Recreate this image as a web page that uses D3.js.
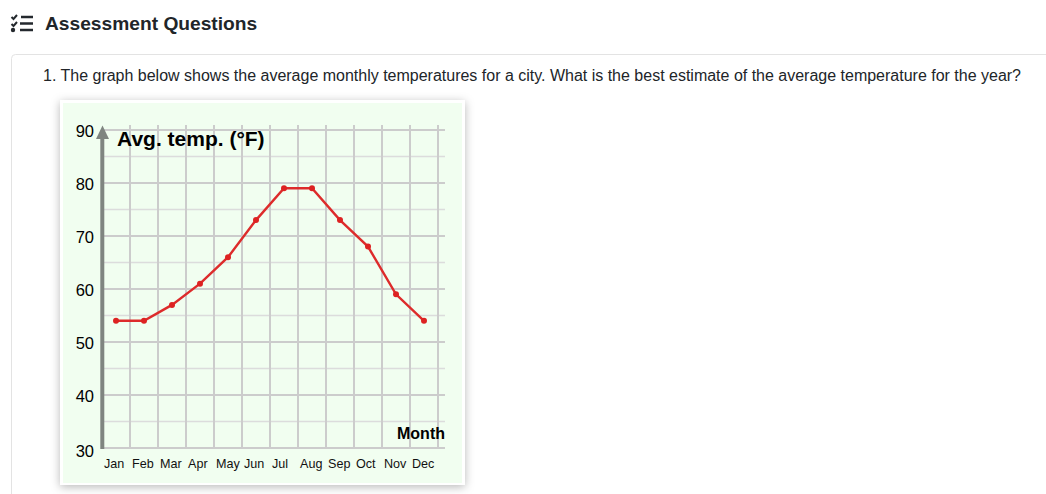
<!DOCTYPE html>
<html><head><meta charset="utf-8">
<script src="https://cdn.jsdelivr.net/npm/d3@7"></script>
<style>
html,body{margin:0;padding:0;background:#fff;overflow:hidden}
svg{display:block;font-family:"Liberation Sans",Arial,sans-serif}
</style></head><body>
<svg id="c" width="1046" height="494"></svg>
<script>
const months=["Jan","Feb","Mar","Apr","May","Jun","Jul","Aug","Sep","Oct","Nov","Dec"];
const temps=[54,54,57,61,66,73,79,79,73,68,59,54];
const majorTicks=[30,40,50,60,70,80,90];
const minorTicks=[35,45,55,65,75,85];
const heading="Assessment Questions";
const question="1. The graph below shows the average monthly temperatures for a city. What is the best estimate of the average temperature for the year?";

const svg=d3.select("#c");
const defs=svg.append("defs");
const f=defs.append("filter").attr("id","sh").attr("x","-10%").attr("y","-10%").attr("width","120%").attr("height","120%");
f.append("feDropShadow").attr("dx",0).attr("dy",2).attr("stdDeviation",5).attr("flood-color","#000").attr("flood-opacity",.28);

// heading icon
const ic=svg.append("g").attr("fill","none").attr("stroke","#24292e");
ic.append("path").attr("stroke-width",2).attr("d","M11.5 17l2 2 3.5-4M11.5 24l2 2 3.5-4");
ic.append("circle").attr("cx",13).attr("cy",30).attr("r",2.2).attr("fill","#24292e").attr("stroke","none");
ic.append("path").attr("stroke-width",2.6).attr("d","M21 17h12M20 23.5h13M20 30h13");
svg.append("text").attr("x",45).attr("y",30).attr("font-size",19.2).attr("font-weight",700).attr("fill","#212529").text(heading);

// outer panel
svg.append("rect").attr("x",11.5).attr("y",54.5).attr("width",1100).attr("height",600).attr("rx",4).attr("fill","#fff").attr("stroke","#e3e3e3");
svg.append("text").attr("x",43).attr("y",81).attr("font-size",16).attr("fill","#212529").attr("textLength",978).text(question);

// card
svg.append("rect").attr("x",60).attr("y",100).attr("width",405).attr("height",385).attr("fill","#fff").attr("filter","url(#sh)");
svg.append("rect").attr("x",63).attr("y",103).attr("width",399).attr("height",380).attr("fill","#f1fef0");

const x=d3.scaleBand().domain(months).range([102,438]);
const y=d3.scaleLinear().domain([30,90]).range([448,130]);
const grid=svg.append("g");
grid.selectAll(".minor").data(minorTicks).join("line").attr("x1",102).attr("x2",445)
  .attr("y1",d=>y(d)).attr("y2",d=>y(d)).attr("stroke","#dcdcdc").attr("stroke-width",1.5);
grid.selectAll(".vert").data(months).join("line").attr("x1",d=>x(d)+x.step()).attr("x2",d=>x(d)+x.step())
  .attr("y1",125).attr("y2",449).attr("stroke","#cccccc").attr("stroke-width",2);
grid.selectAll(".major").data(majorTicks).join("line").attr("x1",102).attr("x2",445)
  .attr("y1",d=>y(d)).attr("y2",d=>y(d)).attr("stroke","#cccccc").attr("stroke-width",2);

// y axis
const yAxis=svg.append("g").attr("transform","translate(94,1)")
  .call(d3.axisLeft(y).tickValues(majorTicks).tickSize(0).tickPadding(0));
yAxis.select(".domain").remove();
yAxis.selectAll("text").attr("font-family","Liberation Sans, Arial, sans-serif").attr("font-size",16.5).attr("fill","#000")
  .attr("y",d=>d===30?2:0).attr("dy","0.32em");

// y axis arrow
svg.append("line").attr("x1",102.3).attr("x2",102.3).attr("y1",136).attr("y2",449).attr("stroke","#7f8580").attr("stroke-width",4);
svg.append("path").attr("d","M102.5 125.5L109 139H96Z").attr("fill","#7f8580");

// x axis
const xAxis=svg.append("g").attr("transform","translate(0,464)")
  .call(d3.axisBottom(x).tickSize(0).tickPadding(0));
xAxis.select(".domain").remove();
xAxis.selectAll("text").attr("font-family","Liberation Sans, Arial, sans-serif").attr("font-size",12.6).attr("fill","#111")
  .attr("text-anchor","start").attr("x",-12).attr("y",0).attr("dy","0.32em");

svg.append("text").attr("x",117).attr("y",146).attr("font-size",21).attr("font-weight",700).attr("fill","#000").text("Avg. temp. (°F)");
svg.append("text").attr("x",445).attr("y",439).attr("text-anchor","end").attr("font-size",16).attr("font-weight",700).attr("fill","#000").text("Month");

const cx=m=>x(m)+x.bandwidth()/2;
const series=months.map((m,i)=>({m,v:temps[i]}));
svg.append("path").datum(series).attr("fill","none").attr("stroke","#dd2b2b").attr("stroke-width",2.4)
  .attr("d",d3.line().x(d=>cx(d.m)).y(d=>y(d.v)));
svg.selectAll(".pt").data(series).join("circle").attr("cx",d=>cx(d.m)).attr("cy",d=>y(d.v)).attr("r",3).attr("fill","#dd2222");
</script>
</body></html>
